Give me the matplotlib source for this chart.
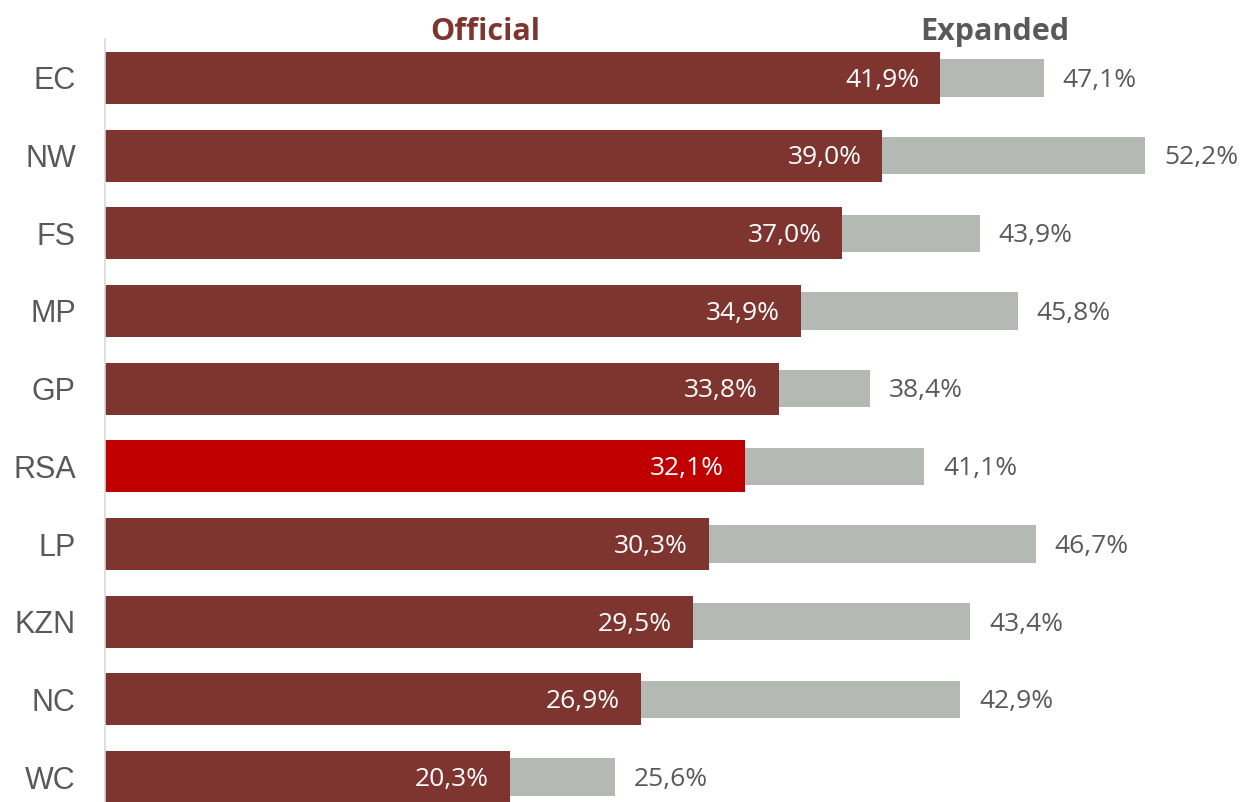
import matplotlib.pyplot as plt
import numpy as np

# Provinces, official vs expanded unemployment rate (%)
provinces = ['EC', 'NW', 'FS', 'MP', 'GP', 'RSA', 'LP', 'KZN', 'NC', 'WC']
official = [41.9, 39.0, 37.0, 34.9, 33.8, 32.1, 30.3, 29.5, 26.9, 20.3]
expanded = [47.1, 52.2, 43.9, 45.8, 38.4, 41.1, 46.7, 43.4, 42.9, 25.6]

dark_red = '#7E3530'
bright_red = '#C00000'
grey_bar = '#B5B9B4'
grey_text = '#595959'

def pct(v):
    return f'{v:.1f}'.replace('.', ',') + '%'

W, H = 1250, 802
fig = plt.figure(figsize=(W / 100, H / 100), dpi=100)
ax = fig.add_axes([105 / W, 0, 1 - 105 / W, 1 - 39 / H])

y = np.arange(len(provinces))
colors = [bright_red if p == 'RSA' else dark_red for p in provinces]

ax.barh(y, expanded, height=0.48, color=grey_bar, zorder=1)
ax.barh(y, official, height=0.67, color=colors, zorder=2)

for yi, o, e in zip(y, official, expanded):
    ax.text(o - 1.05, yi + 0.03, pct(o), ha='right', va='center', color='white',
            fontsize=19, family='Open Sans', zorder=3)
    ax.text(e + 0.95, yi + 0.03, pct(e), ha='left', va='center', color=grey_text,
            fontsize=19, family='Open Sans', zorder=3)

ax.set_xlim(0, (W - 105) / 19.93)
ax.set_ylim(9 + 25 / 77.7, -39 / 77.7)
ax.set_yticks(y)
ax.set_yticklabels(provinces, fontsize=22, color=grey_text, family='Liberation Sans')
ax.tick_params(axis='y', length=0, pad=21)
ax.set_xticks([])
for s in ['top', 'right', 'bottom']:
    ax.spines[s].set_visible(False)
ax.spines['left'].set_color('#D9D9D9')
ax.spines['left'].set_linewidth(1.2)

fig.text(485 / W, 1 - 32 / H, 'Official', ha='center', va='center',
         fontsize=22, fontweight='bold', color=dark_red, family='Open Sans')
fig.text(995 / W, 1 - 32 / H, 'Expanded', ha='center', va='center',
         fontsize=22, fontweight='bold', color=grey_text, family='Open Sans')

fig.savefig('out.png', dpi=100, facecolor='white')
